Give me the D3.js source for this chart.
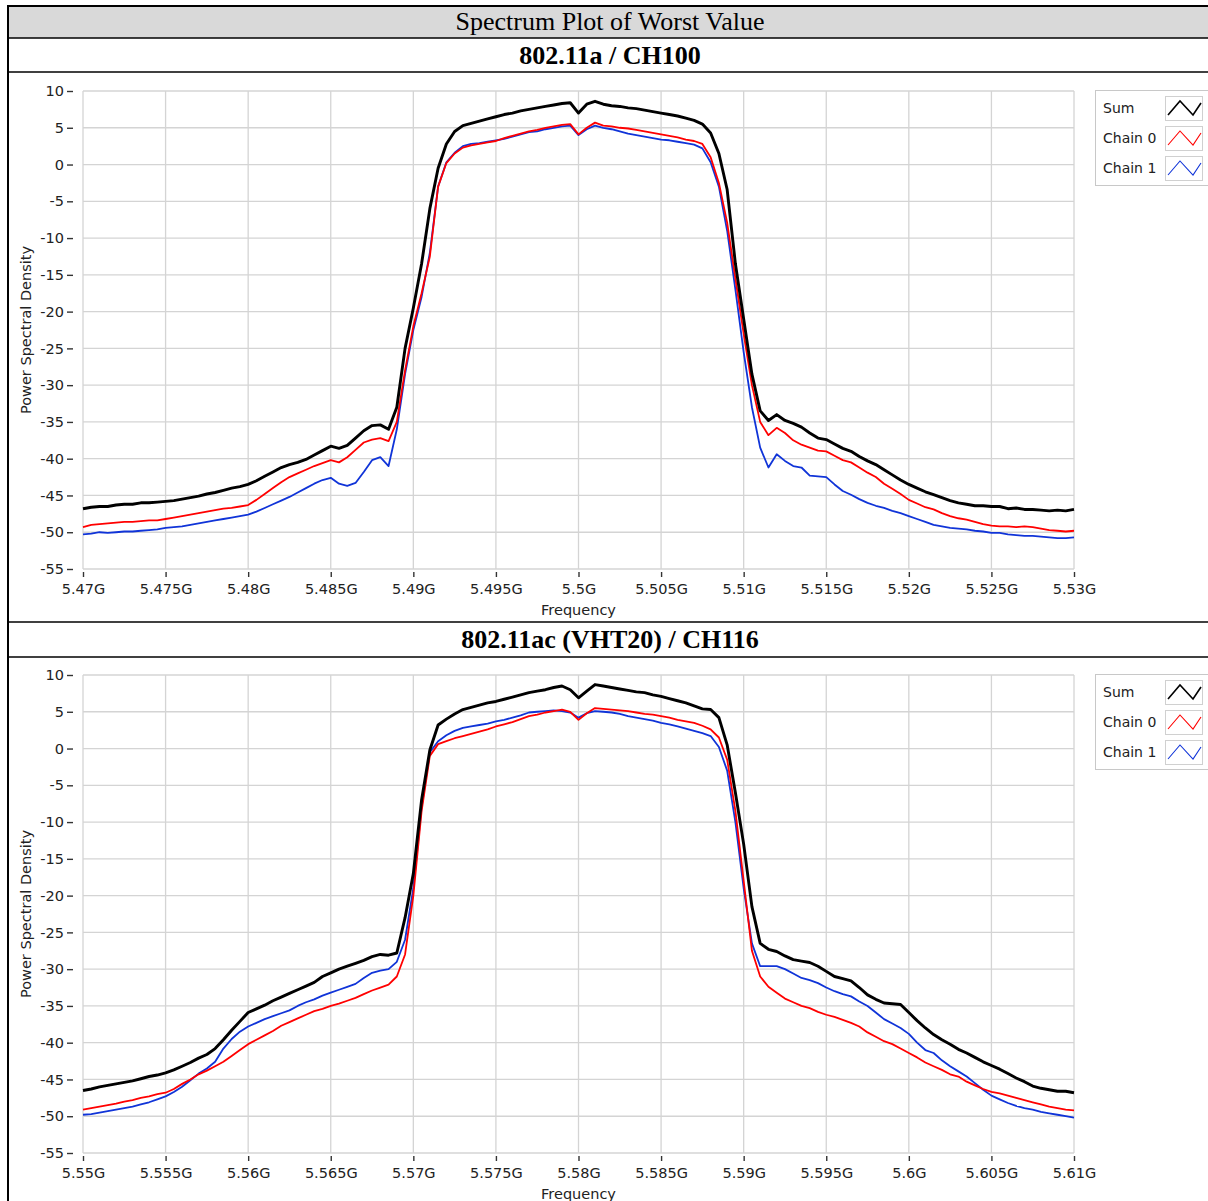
<!DOCTYPE html>
<html><head><meta charset="utf-8">
<script src="https://cdn.jsdelivr.net/npm/d3@7"></script>
<style>html,body{margin:0;padding:0;background:#fff;}svg{display:block;}</style>
</head><body>
<svg id="chart" width="1208" height="1201"></svg>
<script>
// ---------- DATA ----------
const titleText = "Spectrum Plot of Worst Value";
const panelTitles = ["802.11a / CH100", "802.11ac (VHT20) / CH116"];
const seriesNames = ["Sum", "Chain 0", "Chain 1"];
const seriesColors = ["#000000", "#ff0000", "#1034d8"];
const yTicks = [10, 5, 0, -5, -10, -15, -20, -25, -30, -35, -40, -45, -50, -55];
const yTickLabels = ["10", "5", "0", "-5", "-10", "-15", "-20", "-25", "-30", "-35", "-40", "-45", "-50", "-55"];
const xTicks1 = [5470, 5475, 5480, 5485, 5490, 5495, 5500, 5505, 5510, 5515, 5520, 5525, 5530];
const xTickLabels1 = ["5.47G", "5.475G", "5.48G", "5.485G", "5.49G", "5.495G", "5.5G", "5.505G", "5.51G", "5.515G", "5.52G", "5.525G", "5.53G"];
const xTicks2 = [5550, 5555, 5560, 5565, 5570, 5575, 5580, 5585, 5590, 5595, 5600, 5605, 5610];
const xTickLabels2 = ["5.55G", "5.555G", "5.56G", "5.565G", "5.57G", "5.575G", "5.58G", "5.585G", "5.59G", "5.595G", "5.6G", "5.605G", "5.61G"];
const sampleStartMHz = [5470, 5550];
const sampleStepMHz = 0.5;

// panel 1 (802.11a / CH100), dBm, one value per 0.5 MHz
const sum1 = [
 -46.8,-46.6,-46.5,-46.5,-46.3,-46.2,-46.2,-46.0,-46.0,-45.9,
 -45.8,-45.7,-45.5,-45.3,-45.1,-44.8,-44.6,-44.3,-44.0,-43.8,
 -43.5,-43.0,-42.4,-41.8,-41.2,-40.8,-40.5,-40.1,-39.5,-38.9,
 -38.3,-38.6,-38.2,-37.2,-36.2,-35.5,-35.4,-36.0,-33.0,-25.0,
 -19.5,-13.5,-6.0,-0.5,2.8,4.5,5.3,5.6,5.9,6.2,
 6.5,6.8,7.0,7.3,7.5,7.7,7.9,8.1,8.3,8.4,
 7.0,8.2,8.6,8.2,8.0,7.9,7.7,7.6,7.4,7.2,
 7.0,6.8,6.6,6.3,6.0,5.5,4.3,1.5,-3.4,-13.5,
 -21.0,-28.5,-33.5,-34.8,-34.0,-34.8,-35.2,-35.7,-36.5,-37.2,
 -37.4,-38.0,-38.6,-39.0,-39.7,-40.3,-40.8,-41.5,-42.2,-42.9,
 -43.5,-44.0,-44.5,-44.9,-45.3,-45.7,-46.0,-46.2,-46.4,-46.4,
 -46.5,-46.5,-46.8,-46.7,-46.9,-46.9,-47.0,-47.1,-47.0,-47.1,-46.9];
const chain0_1 = [
 -49.3,-49.0,-48.9,-48.8,-48.7,-48.6,-48.6,-48.5,-48.4,-48.4,
 -48.2,-48.0,-47.8,-47.6,-47.4,-47.2,-47.0,-46.8,-46.7,-46.5,
 -46.3,-45.6,-44.8,-44.0,-43.2,-42.5,-42.0,-41.5,-41.0,-40.6,
 -40.2,-40.5,-39.8,-38.8,-37.8,-37.4,-37.2,-37.6,-35.0,-28.0,
 -22.0,-17.5,-12.5,-3.0,0.2,1.5,2.3,2.6,2.8,3.0,
 3.2,3.6,3.9,4.2,4.5,4.7,5.0,5.2,5.4,5.5,
 4.1,5.0,5.7,5.3,5.2,5.0,4.9,4.7,4.5,4.3,
 4.1,3.9,3.7,3.4,3.2,2.8,1.0,-2.5,-7.9,-15.5,
 -23.0,-30.0,-35.0,-36.8,-35.8,-36.5,-37.5,-38.1,-38.5,-38.9,
 -39.0,-39.6,-40.2,-40.5,-41.2,-41.9,-42.5,-43.4,-44.1,-44.8,
 -45.6,-46.1,-46.6,-46.9,-47.4,-47.8,-48.1,-48.3,-48.6,-48.9,
 -49.1,-49.2,-49.2,-49.3,-49.2,-49.3,-49.5,-49.7,-49.8,-49.9,-49.8];
const chain1_1 = [
 -50.3,-50.2,-50.0,-50.1,-50.0,-49.9,-49.9,-49.8,-49.7,-49.6,
 -49.4,-49.3,-49.2,-49.0,-48.8,-48.6,-48.4,-48.2,-48.0,-47.8,
 -47.6,-47.2,-46.7,-46.2,-45.7,-45.2,-44.6,-44.0,-43.4,-42.9,
 -42.6,-43.4,-43.7,-43.3,-41.8,-40.2,-39.8,-41.0,-36.0,-28.5,
 -22.5,-18.0,-12.0,-3.0,0.3,1.6,2.5,2.8,2.9,3.1,
 3.3,3.5,3.8,4.1,4.4,4.5,4.8,5.0,5.2,5.3,
 4.0,4.8,5.3,5.0,4.8,4.5,4.2,4.0,3.8,3.6,
 3.4,3.3,3.1,2.9,2.7,2.2,0.3,-3.0,-9.0,-17.0,
 -25.5,-33.0,-38.5,-41.2,-39.4,-40.3,-41.0,-41.2,-42.3,-42.4,
 -42.5,-43.5,-44.4,-44.9,-45.5,-46.0,-46.4,-46.7,-47.1,-47.4,
 -47.8,-48.2,-48.6,-49.0,-49.2,-49.4,-49.5,-49.6,-49.8,-49.9,
 -50.1,-50.1,-50.3,-50.4,-50.5,-50.5,-50.6,-50.7,-50.8,-50.8,-50.7];

// panel 2 (802.11ac VHT20 / CH116)
const sum2 = [
 -46.5,-46.3,-46.0,-45.8,-45.6,-45.4,-45.2,-44.9,-44.6,-44.4,
 -44.1,-43.7,-43.2,-42.7,-42.1,-41.6,-40.8,-39.6,-38.3,-37.1,
 -35.9,-35.4,-34.9,-34.3,-33.8,-33.3,-32.8,-32.3,-31.8,-31.0,
 -30.5,-30.0,-29.6,-29.2,-28.8,-28.3,-28.0,-28.1,-27.8,-23.0,
 -17.0,-7.0,-0.2,3.2,4.0,4.7,5.3,5.6,5.9,6.2,
 6.4,6.7,7.0,7.3,7.6,7.8,8.0,8.3,8.5,8.0,
 6.9,7.8,8.7,8.5,8.3,8.1,7.9,7.7,7.6,7.3,
 7.1,6.8,6.5,6.2,5.8,5.4,5.3,4.2,0.5,-6.0,
 -13.0,-21.5,-26.5,-27.3,-27.6,-28.2,-28.7,-28.9,-29.1,-29.6,
 -30.3,-31.0,-31.3,-31.6,-32.5,-33.5,-34.1,-34.6,-34.7,-34.8,
 -35.9,-37.0,-38.0,-38.9,-39.6,-40.2,-40.9,-41.4,-42.0,-42.6,
 -43.1,-43.6,-44.2,-44.8,-45.3,-45.9,-46.2,-46.4,-46.6,-46.6,-46.8];
const chain0_2 = [
 -49.1,-48.9,-48.7,-48.5,-48.3,-48.0,-47.8,-47.5,-47.3,-47.0,
 -46.8,-46.3,-45.6,-45.0,-44.3,-43.8,-43.2,-42.6,-41.8,-41.0,
 -40.2,-39.6,-39.0,-38.4,-37.7,-37.2,-36.7,-36.2,-35.7,-35.4,
 -35.0,-34.7,-34.3,-33.9,-33.4,-32.9,-32.5,-32.1,-31.0,-28.0,
 -20.0,-8.5,-1.0,0.6,1.0,1.4,1.7,2.0,2.3,2.6,
 3.0,3.3,3.6,4.0,4.4,4.6,4.9,5.1,5.3,5.0,
 3.9,4.8,5.5,5.4,5.3,5.2,5.1,4.9,4.7,4.6,
 4.4,4.2,3.9,3.7,3.5,3.1,2.6,1.5,-1.5,-8.5,
 -18.0,-27.5,-31.0,-32.4,-33.2,-34.0,-34.5,-35.0,-35.3,-35.8,
 -36.2,-36.5,-36.9,-37.3,-37.8,-38.6,-39.2,-39.8,-40.2,-40.8,
 -41.4,-42.0,-42.7,-43.2,-43.7,-44.3,-44.6,-45.3,-45.8,-46.3,
 -46.7,-46.9,-47.2,-47.5,-47.8,-48.1,-48.4,-48.7,-48.9,-49.1,-49.2];
const chain1_2 = [
 -49.8,-49.7,-49.5,-49.3,-49.1,-48.9,-48.7,-48.4,-48.1,-47.7,
 -47.3,-46.7,-46.0,-45.1,-44.2,-43.5,-42.6,-40.8,-39.5,-38.5,
 -37.8,-37.3,-36.8,-36.4,-36.0,-35.6,-35.0,-34.5,-34.1,-33.6,
 -33.2,-32.8,-32.4,-32.0,-31.2,-30.5,-30.2,-30.0,-29.0,-26.0,
 -19.0,-8.0,-0.5,1.0,1.8,2.4,2.8,3.0,3.2,3.4,
 3.7,3.9,4.2,4.5,4.9,5.0,5.1,5.2,5.1,4.9,
 4.2,4.8,5.1,5.0,4.9,4.7,4.4,4.2,4.0,3.8,
 3.5,3.3,3.0,2.7,2.4,2.1,1.7,0.2,-3.0,-10.0,
 -19.0,-26.5,-29.6,-29.6,-29.6,-30.0,-30.6,-31.2,-31.5,-31.9,
 -32.5,-33.0,-33.4,-33.7,-34.4,-35.0,-35.9,-36.8,-37.4,-38.0,
 -38.8,-40.0,-41.0,-41.4,-42.4,-43.2,-43.9,-44.6,-45.5,-46.4,
 -47.2,-47.7,-48.2,-48.6,-48.9,-49.1,-49.4,-49.6,-49.8,-50.0,-50.2];

// ---------- DRAW ----------
const svg = d3.select("#chart");
const W = 1208;

// table frame
svg.append("rect").attr("x", 8).attr("y", 6).attr("width", 1210).attr("height", 32).attr("fill", "#d9d9d9");
const hLines = [6, 38, 72, 622, 657];
hLines.forEach(y => svg.append("line").attr("x1", 7).attr("x2", W).attr("y1", y).attr("y2", y)
  .attr("stroke", "#000").attr("stroke-width", y === 6 ? 2 : 1.6));
svg.append("line").attr("x1", 8).attr("x2", 8).attr("y1", 5).attr("y2", 1201).attr("stroke", "#000").attr("stroke-width", 2);

svg.append("text").attr("x", 610).attr("y", 30).attr("text-anchor", "middle")
  .attr("font-family", "Liberation Serif, Times New Roman, serif").attr("font-size", 26)
  .text(titleText);
[64, 648].forEach((y, k) => svg.append("text").attr("x", 610).attr("y", y).attr("text-anchor", "middle")
  .attr("font-family", "Liberation Serif, Times New Roman, serif").attr("font-size", 26).attr("font-weight", "bold")
  .text(panelTitles[k]));

function drawPanel(off, xTicks, xLabels, startMHz, data) {
  const g = svg.append("g").attr("transform", `translate(0,${off})`);
  const left = 83, right = 1074, top = 91, bottom = 569;
  const x = d3.scaleLinear().domain([xTicks[0], xTicks[xTicks.length - 1]]).range([left, right]);
  const y = d3.scaleLinear().domain([-55, 10]).range([bottom, top]);

  // grid
  const grid = g.append("g").attr("stroke", "#d4d4d4").attr("stroke-width", 1.3);
  xTicks.forEach(t => grid.append("line").attr("x1", x(t)).attr("x2", x(t)).attr("y1", top).attr("y2", bottom));
  yTicks.forEach(t => grid.append("line").attr("x1", left).attr("x2", right).attr("y1", y(t)).attr("y2", y(t)));

  const font = "DejaVu Sans, Verdana, sans-serif";
  // y axis
  const ya = g.append("g").attr("transform", `translate(73,0)`)
    .call(d3.axisLeft(y).tickValues(yTicks).tickFormat((d, i) => yTickLabels[i]).tickSize(6).tickPadding(3));
  ya.select(".domain").remove();
  ya.selectAll("line").attr("stroke", "#333").attr("stroke-width", 1.4);
  ya.selectAll("text").attr("font-family", font).attr("font-size", 14.5).attr("fill", "#222");

  // x axis
  const xa = g.append("g").attr("transform", `translate(0,${bottom + 3})`)
    .call(d3.axisBottom(x).tickValues(xTicks).tickFormat((d, i) => xLabels[i]).tickSize(5).tickPadding(7));
  xa.select(".domain").remove();
  xa.selectAll("line").attr("stroke", "#333").attr("stroke-width", 1.4);
  xa.selectAll("text").attr("font-family", font).attr("font-size", 14.5).attr("fill", "#222");

  // axis titles
  g.append("text").attr("transform", `translate(31,${(top + bottom) / 2}) rotate(-90)`)
    .attr("text-anchor", "middle").attr("font-family", font).attr("font-size", 14.5).attr("fill", "#222")
    .text("Power Spectral Density");
  g.append("text").attr("x", (left + right) / 2).attr("y", 615).attr("text-anchor", "middle")
    .attr("font-family", font).attr("font-size", 14.5).attr("fill", "#222").text("Frequency");

  // series
  const line = d3.line().x((d, i) => x(startMHz + i * sampleStepMHz)).y(d => y(d));
  const order = [2, 1, 0];
  const widths = [2.9, 1.8, 1.8];
  order.forEach(k => g.append("path").datum(data[k]).attr("d", line).attr("fill", "none")
    .attr("stroke", seriesColors[k]).attr("stroke-width", widths[k]).attr("stroke-linejoin", "round"));

  // legend
  const lg = g.append("g");
  lg.append("rect").attr("x", 1095.5).attr("y", 90.5).attr("width", 130).attr("height", 95)
    .attr("fill", "#fff").attr("stroke", "#c8c8c8");
  seriesNames.forEach((name, k) => {
    const cy = 108 + k * 30;
    lg.append("text").attr("x", 1103).attr("y", cy).attr("dy", "0.35em").attr("font-family", font)
      .attr("font-size", 14).attr("fill", "#222").text(name);
    lg.append("rect").attr("x", 1165.5).attr("y", cy - 11.5).attr("width", 37).attr("height", 24)
      .attr("fill", "#fff").attr("stroke", "#d0d0d0");
    const pts = [[1168, cy + 7], [1180, cy - 7], [1193, cy + 7], [1201, cy - 5]];
    lg.append("path").attr("d", d3.line()(pts)).attr("fill", "none")
      .attr("stroke", seriesColors[k]).attr("stroke-width", k === 0 ? 1.6 : 1.1);
  });
}

drawPanel(0, xTicks1, xTickLabels1, sampleStartMHz[0], [sum1, chain0_1, chain1_1]);
drawPanel(584, xTicks2, xTickLabels2, sampleStartMHz[1], [sum2, chain0_2, chain1_2]);
</script>
</body></html>
